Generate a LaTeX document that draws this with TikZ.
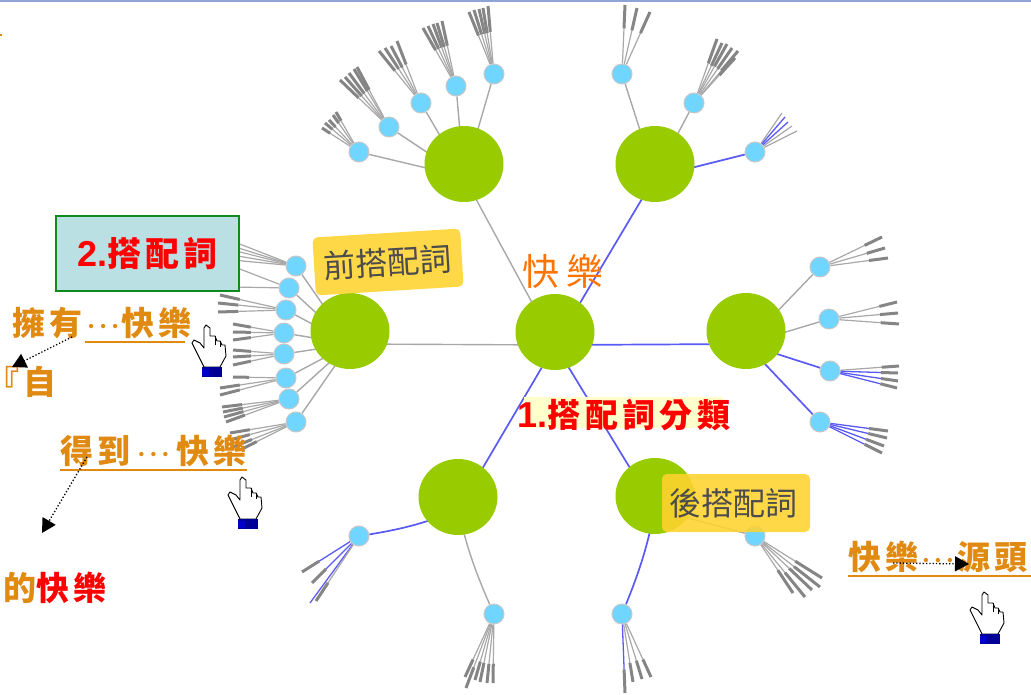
\documentclass[tikz,border=0pt]{standalone}
\usepackage{fontspec}
\setmainfont{Noto Sans CJK TC}
\newfontfamily\cjkwide[LetterSpace=13]{Noto Sans CJK TC}
\newfontfamily\latinbold{Liberation Sans}
\usetikzlibrary{arrows.meta, calc, backgrounds, shapes.geometric}

\definecolor{hubgreen}{HTML}{99CC00}
\definecolor{leafblue}{HTML}{70D5FF}
\definecolor{leafrim}{HTML}{C8C8C8}
\definecolor{edgegray}{HTML}{A8A8A8}
\definecolor{edgeblue}{HTML}{5A5AF5}
\definecolor{stubgray}{HTML}{858585}
\definecolor{wordorange}{HTML}{E08A12}
\definecolor{calloutyellow}{HTML}{FFD32F}
\definecolor{boxteal}{HTML}{BBE0E3}
\definecolor{boxgreen}{HTML}{0F8A1F}
\definecolor{paleyellow}{HTML}{FFFFCC}
\definecolor{topbar}{HTML}{8FA3D6}

\tikzset{
  hub/.style={ellipse, fill=hubgreen, inner sep=0pt, minimum width=79pt, minimum height=76pt},
  leaf/.style={circle, fill=leafblue, draw=leafrim, line width=1pt, inner sep=0pt, minimum size=20pt},
  edgeg/.style={draw=edgegray, line width=1.4pt},
  edgeb/.style={draw=edgeblue, line width=1.7pt},
  twigg/.style={draw=edgegray, line width=1.2pt},
  twigb/.style={draw=edgeblue, line width=1.3pt},
  stub/.style={draw=stubgray, line width=3pt},
  callout/.style={fill=calloutyellow, fill opacity=0.88, text opacity=1, rounded corners=5pt, text=black!70,
    inner sep=0pt, minimum width=148pt, minimum height=58pt, font=\fontsize{32}{32}\selectfont},
  word/.style={anchor=west, inner sep=0pt, text=wordorange, text height=25pt, text depth=7pt,
    font=\bfseries\cjkwide\fontsize{33}{33}\selectfont},
  underln/.style={draw=wordorange, line width=2pt},
  pointer/.style={dotted, line width=1.3pt, -{Triangle[length=14pt,width=15pt]}}
}

% three heavy dots in a box of the given width
\newcommand{\middots}[1][36pt]{\makebox[#1]{\raisebox{4pt}{\latinbold\fontsize{15}{15}\selectfont
  \makebox[12pt]{•}\makebox[12pt]{•}\makebox[12pt]{•}}}}

% one fan of twigs out of a leaf: thin part, then a thick stub
\newcommand{\fan}[4][.62]{%
  \foreach \ex/\ey in {#4} {
    \coordinate (fe) at (\ex,\ey);
    \coordinate (fm) at ($(#2)!#1!(fe)$);
    \draw[#3] (#2) -- (fm);
    \draw[stub] (fm) -- (fe);
  }}

% hand cursor, cuff centred on the given point
\newcommand{\handcursor}[1]{%
  \begin{scope}[shift={(#1)}]
    \draw[fill=white, line width=0.9pt, line join=round] (-8,-5) -- (-20,-29) -- (-18,-32) -- (-12,-29) -- (-8,-24)
      -- (-8,-44) -- (-6,-47) -- (-2,-44) -- (-2,-36) -- (3,-36) -- (5,-31) -- (8,-31) -- (10,-27) -- (13,-27)
      -- (14,-16) -- (8,-5) -- cycle;
    \draw[line width=0.7pt] (3,-36) -- (3,-27) (8,-31) -- (8,-25);
    \fill[fill=blue!60!black] (-10,-5) rectangle (10,5);
    \fill[fill=blue!80!black] (-10,-3) rectangle (-3,4);
  \end{scope}}

\begin{document}
\begin{tikzpicture}[x=1pt, y=-1pt]
    \useasboundingbox (0,0) rectangle (1031,695);
    \fill[fill=topbar] (0,0) rectangle (1031,2);
    \fill[fill=wordorange] (0,34) rectangle (2,36);

    % Where the edges of each hub meet
    \coordinate (ac) at (555,345);
    \coordinate (atl) at (464,177);
    \coordinate (atr) at (655,177);
    \coordinate (al) at (350,344);
    \coordinate (ar) at (746,344);
    \coordinate (abl) at (458,510);
    \coordinate (abr) at (655,509);

    % Hubs
    \foreach \h in {c,tl,tr,l,r,bl,br} \node[hub] (hub\h) at ([yshift=13pt]a\h) {};

    % Leaves
    \foreach \i/\x/\y in {1/359/152, 2/389/127, 3/421/103, 4/456/86, 5/494/74, 6/622/74, 7/694/103, 8/755/152,
        9/820/267, 10/829/319, 11/830/371, 12/820/422, 13/755/536, 14/622/614, 15/494/614, 16/359/536,
        17/296/266, 18/289/288, 19/286/310, 20/284/333, 21/284/354, 22/286/378, 23/289/399, 24/296/422}
      \node[leaf] (n\i) at (\x,\y) {};

    % Edges and fans
    \begin{scope}[on background layer]
        \foreach \a/\b in {ac/atl, ac/al, atl/n1, atl/n2, atl/n3, atl/n4, atl/n5, atr/n6, atr/n7, ar/n9, ar/n10,
            abr/n13, al/n17, al/n18, al/n19, al/n20, al/n21, al/n22, al/n23, al/n24}
          \draw[edgeg] (\a) -- (\b);
        \foreach \a/\b in {ac/atr, ac/ar, ac/abl, ac/abr, atr/n8, ar/n11, ar/n12}
          \draw[edgeb] (\a) -- (\b);
        \draw[edgeb] (abl) to[bend left=6] (n16);
        \draw[edgeb] (abr) to[bend left=5] (n14);
        \draw[edgeg] (abl) to[bend right=5] (n15);

        \fan[.78]{n1}{twigg}{322/128, 325/123, 329/120, 333/115, 336/112}
        \fan{n2}{twigg}{340/80, 345/77, 349/73, 354/69, 357/67}
        \fan{n3}{twigg}{379/51, 385/48, 391/46, 397/41}
        \fan{n4}{twigg}{423/28, 428/26, 433/24, 437/23, 442/21}
        \fan{n5}{twigg}{469/12, 474/10, 479/9, 483/8, 488/6}
        \fan[.66]{n6}{twigg}{625/5, 637/8, 650/12}
        \fan{n7}{twigg}{717/39, 722/43, 727/44, 732/48, 738/51, 735/58}
        \fan[1]{n8}{twigg}{782/113, 792/126, 797/131}
        \fan[1]{n8}{twigb}{785/117, 788/122}
        \fan[.72]{n9}{twigg}{882/237, 885/248, 888/258}
        \fan[.74]{n10}{twigg}{897/302, 898/313, 899/324}
        \fan[.75]{n11}{twigg}{899/366}
        \fan[.75]{n11}{twigb}{898/373, 898/381, 897/388}
        \fan[.72]{n12}{twigb}{888/431, 887/438, 884/446, 882/453}
        \fan[.6]{n13}{twigg}{793/593, 805/597, 812/590, 820/587, 822/578}
        \fan[.72]{n14}{twigg}{633/682, 642/679, 651/677}
        \fan[.7]{n14}{twigb}{625/693}
        \fan[.72]{n15}{twigg}{465/677, 466/688, 475/680, 480/682, 487/683, 493/683}
        \fan[.7]{n16}{twigb}{302/572, 312/583}
        \fan[1]{n16}{twigb}{310/603}
        \fan[.72]{n16}{twigg}{316/601}
        \fan[1]{n17}{twigg}{232/241, 232/246, 232/250, 232/255, 232/260}
        \fan[1]{n18}{twigg}{232/266, 232/287}
        \fan[.7]{n19}{twigg}{220/295, 218/303, 218/312}
        \fan[.65]{n20}{twigg}{233/324, 233/332, 233/340}
        \fan[.65]{n21}{twigg}{233/350, 233/357, 233/365}
        \fan[.7]{n22}{twigg}{233/377, 220/388, 220/395}
        \fan[.7]{n23}{twigg}{222/407, 223/412, 224/417, 226/422}
        \fan[.7]{n24}{twigg}{230/433, 230/440, 233/447, 240/450}
    \end{scope}

    % Labels on the graph
    \node[callout, rotate=3.5] (prefix) at (388,262) {前搭配詞};
    \node[callout] (suffix) at (736,503) {後搭配詞\hspace*{6pt}};
    \node[text=orange!90!red, inner sep=0pt, font=\fontsize{37}{37}\selectfont] (joy) at (563,271) {快\hspace{8pt}樂};
    \node[rectangle, fill=paleyellow, inner sep=0pt, minimum width=199pt, minimum height=31pt] (titlebg) at (623,412) {};
    \node[text=red, inner sep=0pt, font=\bfseries\fontsize{33}{33}\selectfont] (title) at (624,415)
        {{\latinbold\fontsize{36}{36}\selectfont 1.}{\cjkwide 搭配詞分類}};
    \node[rectangle, fill=boxteal, draw=boxgreen, line width=1.6pt, inner sep=0pt, minimum width=183pt, minimum height=75pt,
        text=red, font=\bfseries\fontsize{34}{34}\selectfont] (termbox) at (147.5,253.5)
        {{\latinbold\fontsize{36}{36}\selectfont 2.}{\cjkwide 搭配詞}};

    % Words at the sides
    \node[word] (own) at (12,326) {擁有};
    \node[word] (ownjoy) at (85,326) {\middots 快樂};
    \draw[underln] (ownjoy.south west) -- ++(100,0);
    \node[word] (gain) at (60,454) {得到\middots[46pt]快樂};
    \draw[underln] (gain.south west) -- ++(187,0);
    \node[word] (source) at (848,560) {快樂\middots[39pt]源頭};
    \draw[underln] (source.south west) -- ++(183,0);
    \node[word] (self) at (-14,385) {『自};
    \node[word] (of) at (3,591) {的\textcolor{red}{快樂}};

    % Pointers
    \coordinate (p1a) at (72,337);
    \coordinate (p1b) at (12,367);
    \coordinate (p2a) at (87,457);
    \coordinate (p2b) at (42,533);
    \coordinate (p3a) at (893,563);
    \coordinate (p3b) at (969,564);
    \draw[pointer] (p1a) -- (p1b);
    \draw[pointer] (p2a) -- (p2b);
    \draw[pointer] (p3a) -- (p3b);

    % Hands
    \handcursor{212,372}
    \handcursor{248,524}
    \handcursor{990,639}
\end{tikzpicture}
\end{document}
